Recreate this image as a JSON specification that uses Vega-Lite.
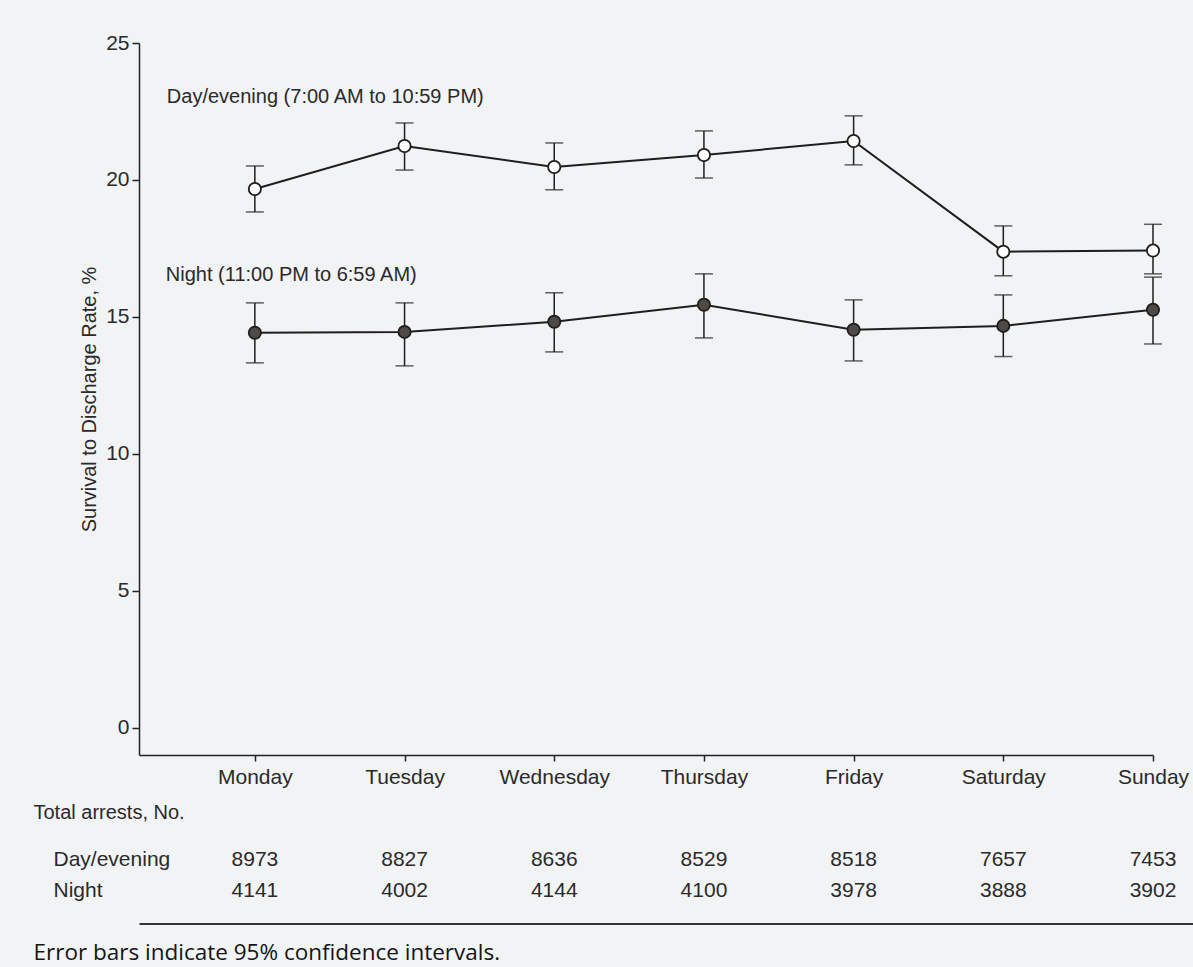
{
  "$schema": "https://vega.github.io/schema/vega-lite/v6.json",
  "background": "#f2f3f5",
  "padding": {"left": 33, "top": 32, "right": 0, "bottom": 6},
  "spacing": 15,
  "config": {
    "view": {"stroke": null},
    "font": "Liberation Sans",
    "axis": {"grid": false, "labelColor": "#2a2a2a", "titleColor": "#2a2a2a", "domainColor": "#222222", "tickColor": "#222222", "titleFontWeight": "normal", "labelFont": "Liberation Sans", "titleFont": "Liberation Sans"}
  },
  "datasets": {
    "rates": [
      {"day": "Monday", "period": "Day/evening", "rate": 19.67, "lo": 18.83, "hi": 20.51},
      {"day": "Tuesday", "period": "Day/evening", "rate": 21.24, "lo": 20.36, "hi": 22.08},
      {"day": "Wednesday", "period": "Day/evening", "rate": 20.47, "lo": 19.64, "hi": 21.35},
      {"day": "Thursday", "period": "Day/evening", "rate": 20.91, "lo": 20.07, "hi": 21.79},
      {"day": "Friday", "period": "Day/evening", "rate": 21.42, "lo": 20.55, "hi": 22.34},
      {"day": "Saturday", "period": "Day/evening", "rate": 17.38, "lo": 16.50, "hi": 18.32},
      {"day": "Sunday", "period": "Day/evening", "rate": 17.42, "lo": 16.57, "hi": 18.38},
      {"day": "Monday", "period": "Night", "rate": 14.42, "lo": 13.32, "hi": 15.51},
      {"day": "Tuesday", "period": "Night", "rate": 14.45, "lo": 13.21, "hi": 15.51},
      {"day": "Wednesday", "period": "Night", "rate": 14.82, "lo": 13.72, "hi": 15.88},
      {"day": "Thursday", "period": "Night", "rate": 15.44, "lo": 14.23, "hi": 16.57},
      {"day": "Friday", "period": "Night", "rate": 14.53, "lo": 13.39, "hi": 15.62},
      {"day": "Saturday", "period": "Night", "rate": 14.67, "lo": 13.55, "hi": 15.80},
      {"day": "Sunday", "period": "Night", "rate": 15.26, "lo": 14.01, "hi": 16.45}
    ],
    "arrests": [
      {"day": "Monday", "period": "Day/evening", "n": 8973},
      {"day": "Tuesday", "period": "Day/evening", "n": 8827},
      {"day": "Wednesday", "period": "Day/evening", "n": 8636},
      {"day": "Thursday", "period": "Day/evening", "n": 8529},
      {"day": "Friday", "period": "Day/evening", "n": 8518},
      {"day": "Saturday", "period": "Day/evening", "n": 7657},
      {"day": "Sunday", "period": "Day/evening", "n": 7453},
      {"day": "Monday", "period": "Night", "n": 4141},
      {"day": "Tuesday", "period": "Night", "n": 4002},
      {"day": "Wednesday", "period": "Night", "n": 4144},
      {"day": "Thursday", "period": "Night", "n": 4100},
      {"day": "Friday", "period": "Night", "n": 3978},
      {"day": "Saturday", "period": "Night", "n": 3888},
      {"day": "Sunday", "period": "Night", "n": 3902}
    ]
  },
  "resolve": {"scale": {"x": "independent", "y": "independent"}},
  "vconcat": [
    {
      "width": 1014,
      "height": 712,
      "data": {"name": "rates"},
      "encoding": {
        "x": {
          "field": "day", "type": "ordinal",
          "sort": ["Monday", "Tuesday", "Wednesday", "Thursday", "Friday", "Saturday", "Sunday"],
          "scale": {"type": "point", "padding": 0.387, "align": 1},
          "axis": {"title": null, "labelAngle": 0, "labelFontSize": 21, "tickSize": 6, "tickWidth": 1.5, "domainWidth": 1.5, "labelPadding": 5}
        }
      },
      "layer": [
        {
          "mark": {"type": "line", "color": "#1e1e1e", "strokeWidth": 2},
          "encoding": {
            "y": {
              "field": "rate", "type": "quantitative",
              "scale": {"domain": [-1, 25], "nice": false, "zero": false},
              "axis": {"values": [0, 5, 10, 15, 20, 25], "title": "Survival to Discharge Rate, %", "titleFontSize": 20, "labelFontSize": 21, "tickSize": 7, "tickWidth": 1.5, "domainWidth": 1.5, "labelPadding": 3, "titlePadding": 6}
            },
            "detail": {"field": "period"}
          }
        },
        {
          "mark": {"type": "rule", "color": "#1e1e1e", "strokeWidth": 1.5},
          "encoding": {
            "y": {"field": "lo", "type": "quantitative"},
            "y2": {"field": "hi"}
          }
        },
        {
          "mark": {"type": "tick", "orient": "horizontal", "color": "#1e1e1e", "size": 18, "thickness": 1.5},
          "encoding": {"y": {"field": "lo", "type": "quantitative"}}
        },
        {
          "mark": {"type": "tick", "orient": "horizontal", "color": "#1e1e1e", "size": 18, "thickness": 1.5},
          "encoding": {"y": {"field": "hi", "type": "quantitative"}}
        },
        {
          "mark": {"type": "point", "shape": "circle", "filled": true, "size": 150, "stroke": "#1e1e1e", "strokeWidth": 1.8, "opacity": 1},
          "encoding": {
            "y": {"field": "rate", "type": "quantitative"},
            "fill": {"field": "period", "type": "nominal", "scale": {"domain": ["Day/evening", "Night"], "range": ["#ffffff", "#4f4a45"]}, "legend": null}
          }
        },
        {
          "data": {"values": [{}]},
          "mark": {"type": "text", "text": "Day/evening (7:00 AM to 10:59 PM)", "align": "left", "baseline": "middle", "dx": -88, "fontSize": 20, "color": "#2a2a2a"},
          "encoding": {"x": {"datum": "Monday"}, "y": {"datum": 23.03}}
        },
        {
          "data": {"values": [{}]},
          "mark": {"type": "text", "text": "Night (11:00 PM to 6:59 AM)", "align": "left", "baseline": "middle", "dx": -89, "fontSize": 20, "color": "#2a2a2a"},
          "encoding": {"x": {"datum": "Monday"}, "y": {"datum": 16.53}}
        }
      ]
    },
    {
      "width": 1054,
      "height": 62,
      "data": {"name": "arrests"},
      "mark": {"type": "text", "fontSize": 21, "color": "#2a2a2a", "baseline": "middle"},
      "encoding": {
        "x": {
          "field": "day", "type": "ordinal",
          "sort": ["Monday", "Tuesday", "Wednesday", "Thursday", "Friday", "Saturday", "Sunday"],
          "scale": {"type": "point", "padding": 0.5205, "align": 0.7436},
          "axis": {"orient": "bottom", "labels": false, "ticks": false, "domain": true, "domainWidth": 2, "domainColor": "#333333", "offset": 17.5,
                   "title": "Error bars indicate 95% confidence intervals.", "titleFont": "Open Sans", "titleFontSize": 22.5, "titleColor": "#151515",
                   "titleAlign": "left", "titleBaseline": "middle", "titleX": -106, "titleY": 29, "titleAnchor": "start"}
        },
        "y": {
          "field": "period", "type": "nominal",
          "sort": ["Day/evening", "Night"],
          "scale": {"type": "point", "padding": 0.5},
          "axis": {"title": "Total arrests, No.", "titleAngle": 0, "titleAlign": "left", "titleBaseline": "middle", "titleX": -106, "titleY": -32, "titleFontSize": 20,
                   "labelAlign": "left", "labelPadding": 86, "labelFontSize": 21, "ticks": false, "tickSize": 0, "domain": false, "labelBaseline": "middle"}
        },
        "text": {"field": "n", "type": "quantitative", "format": "d"}
      }
    }
  ]
}
